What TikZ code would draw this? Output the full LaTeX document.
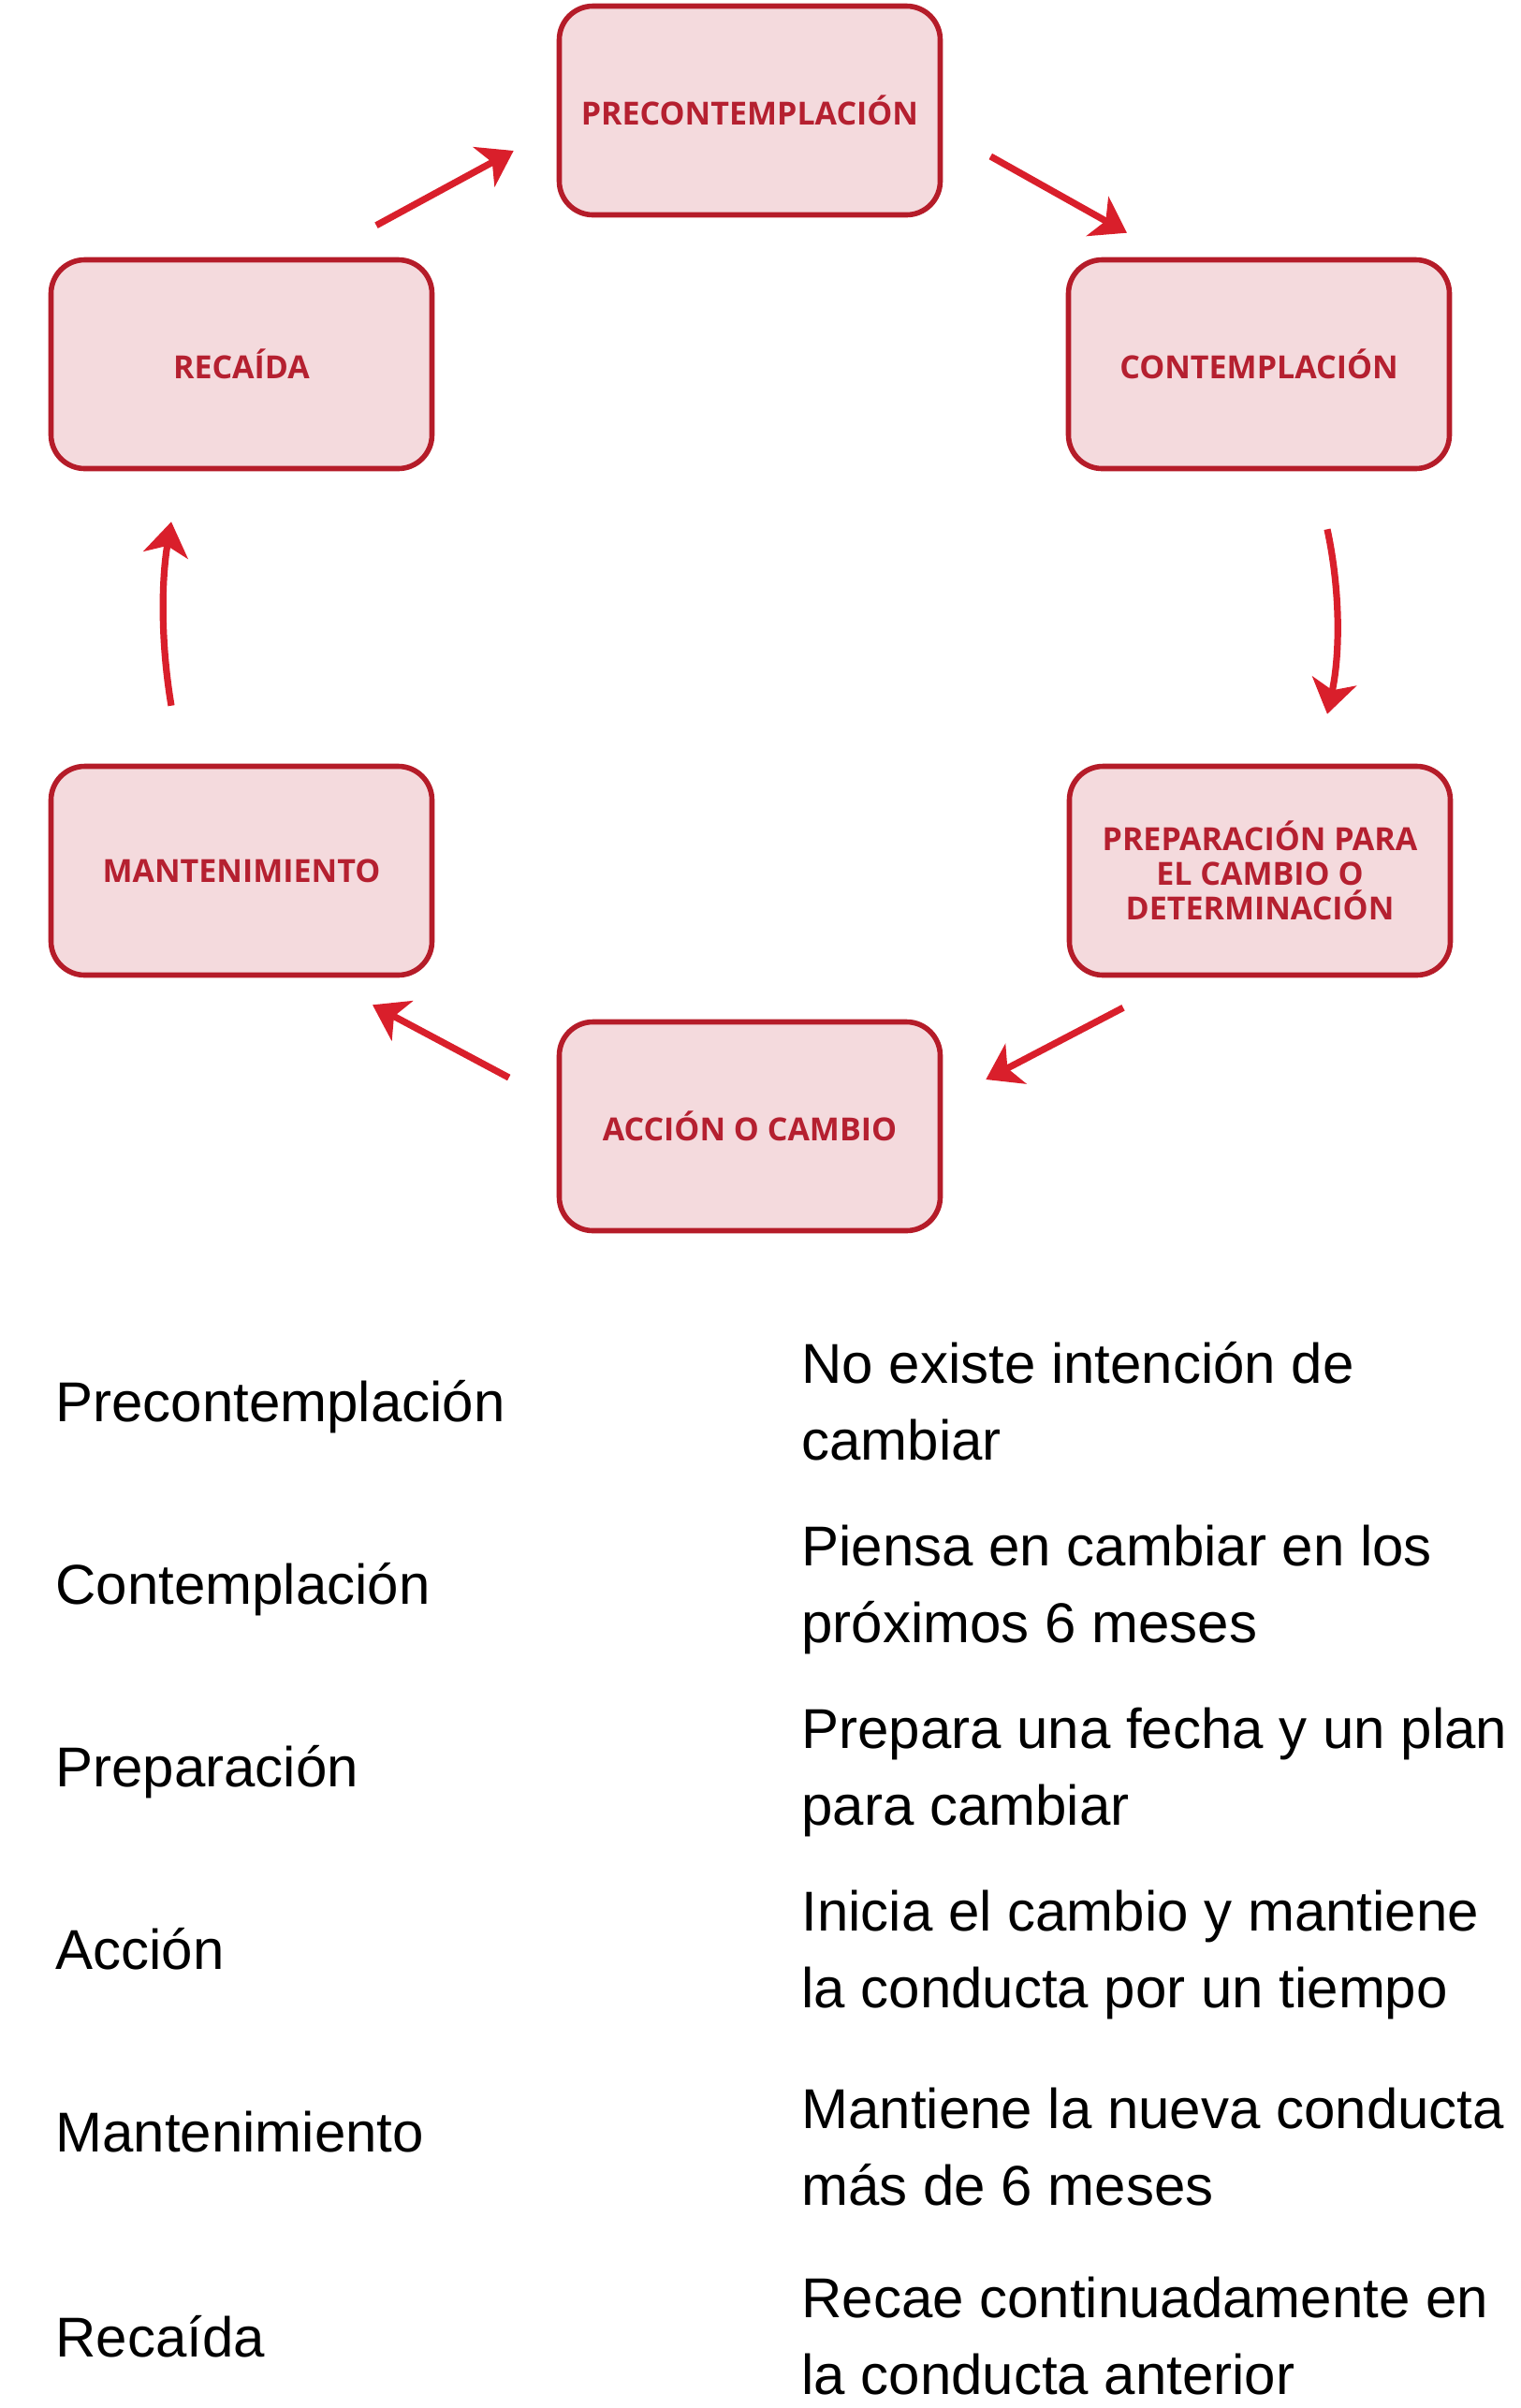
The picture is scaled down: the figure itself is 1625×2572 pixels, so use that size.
\documentclass[tikz,border=0pt]{standalone}
\usepackage{fontspec}
\setmainfont{Liberation Sans}
\newfontfamily\boxfont{Open Sans}
\usetikzlibrary{arrows.meta,calc}
\definecolor{boxline}{HTML}{B51C29}
\definecolor{boxfill}{HTML}{F4DADD}
\definecolor{boxtext}{HTML}{B52030}
\definecolor{arrowred}{HTML}{D91F2B}
\begin{document}
\begin{tikzpicture}[x=0.5pt,y=-0.5pt,
  stage/.style={draw=boxline, fill=boxfill, line width=2.8pt, rounded corners=18pt,
    minimum width=203.5pt, minimum height=111.5pt, inner sep=0pt,
    font=\boxfont\bfseries\fontsize{17}{18.5}\selectfont, text=boxtext, align=center},
  cyc/.style={draw=arrowred, line width=3.6pt, -{Stealth[length=18pt,width=24pt,inset=5pt]}},
  lbl/.style={anchor=base west, inner sep=0pt, font=\fontsize{30}{41}\selectfont, align=left},
]
\useasboundingbox (0,0) rectangle (1625,2572);
% stages
\node[stage] (pre)  at (801,118)  {PRECONTEMPLACIÓN};
\node[stage] (con)  at (1345,389) {CONTEMPLACIÓN};
\node[stage] (prep) at (1346,930) {PREPARACIÓN PARA\\EL CAMBIO O\\DETERMINACIÓN};
\node[stage] (acc)  at (801,1203) {ACCIÓN O CAMBIO};
\node[stage] (man)  at (258,930)  {MANTENIMIENTO};
\node[stage] (rec)  at (258,389)  {RECAÍDA};
% cycle arrows
\draw[cyc] ($(rec.north)+(144,-34)$) -- ($(pre.west)+(-46,43)$);
\draw[cyc] ($(pre.east)+(51,49)$) -- ($(con.north)+(-141,-26)$);
\draw[cyc] ($(con.south)+(73,62)$) .. controls +(14,65) and +(14,-65) .. ($(prep.north)+(72,-53)$);
\draw[cyc] ($(prep.south)+(-146,32)$) -- ($(acc.east)+(46,-50)$);
\draw[cyc] ($(acc.west)+(-51,-52)$) -- ($(man.south)+(140,29)$);
\draw[cyc] ($(man.north)+(-75,-62)$) .. controls +(-11,-65) and +(-11,65) .. ($(rec.south)+(-75,54)$);
% table (right cells anchored at the baseline of their last line)
\node[lbl] (t1) at (59,1518) {Precontemplación};
\node[lbl] (d1) at (856,1559) {No existe intención de\\cambiar};
\node[lbl] (t2) at (59,1713) {Contemplación};
\node[lbl] (d2) at (856,1754) {Piensa en cambiar en los\\próximos 6 meses};
\node[lbl] (t3) at (59,1908) {Preparación};
\node[lbl] (d3) at (856,1949) {Prepara una fecha y un plan\\para cambiar};
\node[lbl] (t4) at (59,2103) {Acción};
\node[lbl] (d4) at (856,2144) {Inicia el cambio y mantiene\\la conducta por un tiempo};
\node[lbl] (t5) at (59,2298) {Mantenimiento};
\node[lbl] (d5) at (856,2355) {Mantiene la nueva conducta\\más de 6 meses};
\node[lbl] (t6) at (59,2517) {Recaída};
\node[lbl] (d6) at (856,2557) {Recae continuadamente en\\la conducta anterior};
\end{tikzpicture}
\end{document}
